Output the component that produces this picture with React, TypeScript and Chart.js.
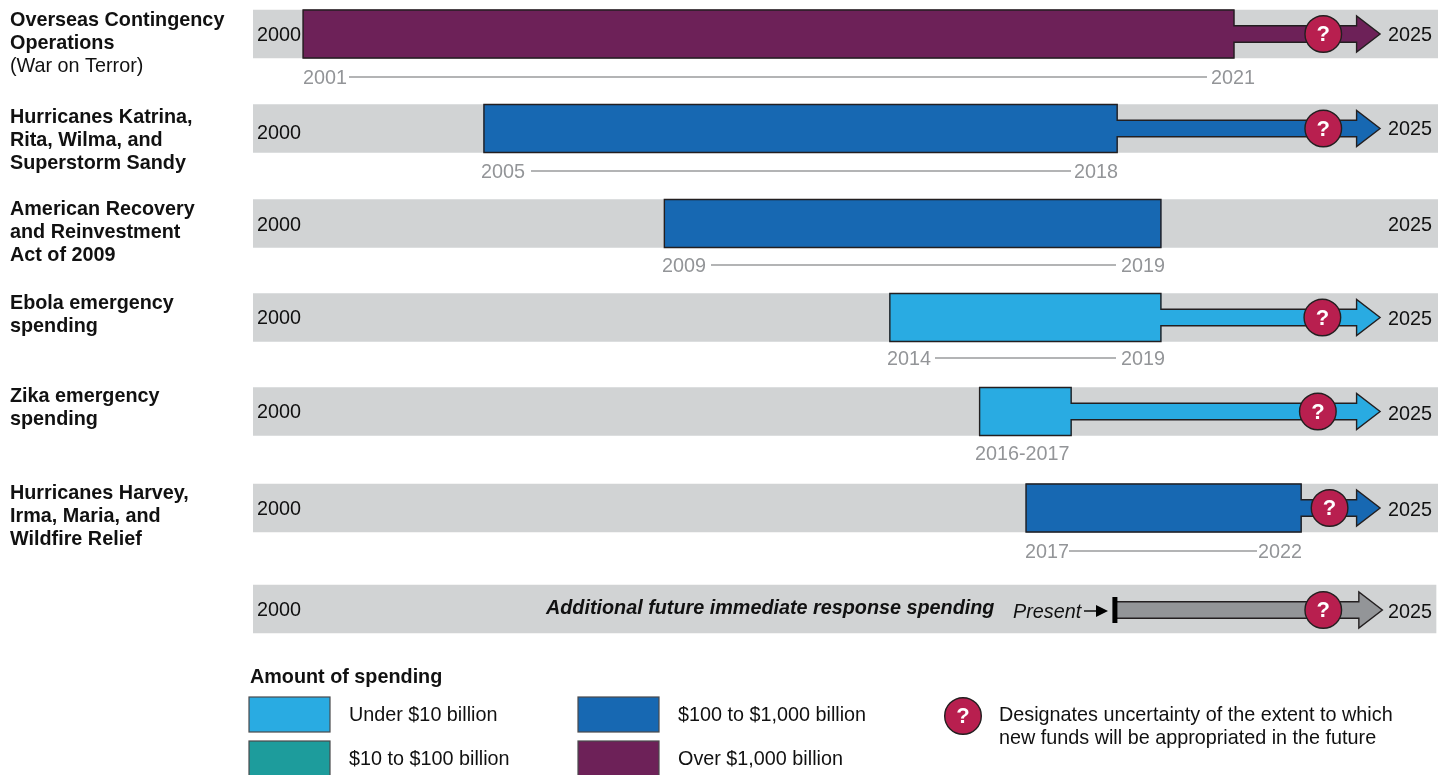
import React, { useEffect, useRef } from "react";
import { Chart, registerables } from "chart.js";
Chart.register(...registerables);

// ---- data (years on the shared 2000-2025 time axis) ----
const categories = [
  ["Overseas Contingency", "Operations"],
  ["Hurricanes Katrina,", "Rita, Wilma, and", "Superstorm Sandy"],
  ["American Recovery", "and Reinvestment", "Act of 2009"],
  ["Ebola emergency", "spending"],
  ["Zika emergency", "spending"],
  ["Hurricanes Harvey,", "Irma, Maria, and", "Wildfire Relief"],
];
const categoryNotes = ["(War on Terror)", "", "", "", "", ""];
const spendStart = [2001.0, 2005.01, 2009.01, 2014.01, 2016.0, 2017.03];
const spendEnd = [2021.64, 2019.05, 2020.02, 2020.02, 2018.03, 2023.13];
const arrowTip = [2024.88, 2024.88, null, 2024.88, 2024.88, 2024.88, 2024.93];
const questionAt = [2023.62, 2023.62, null, 2023.6, 2023.5, 2023.76, 2023.62];
const tiers = [3, 2, 2, 0, 0, 2];
const tierLabels = ["Under $10 billion", "$10 to $100 billion", "$100 to $1,000 billion", "Over $1,000 billion"];
const tierColors = ["#29ABE2", "#1D9C9C", "#1768B2", "#6D2158"];
const rangeFrom = ["2001", "2005", "2009", "2014", "2016-2017", "2017"];
const rangeTo = ["2021", "2018", "2019", "2019", "", "2022"];
const presentYear = 2019.0;
const futureLabel = "Additional future immediate response spending";
const axisStart = "2000";
const axisEnd = "2025";
const legendTitle = "Amount of spending";
const uncertaintyNote = ["Designates uncertainty of the extent to which", "new funds will be appropriated in the future"];

// ---- layout ----
const W = 1450;
const H = 775;
const X_MIN = 1999.889;
const X_MAX = 2026.164;
const ROW_Y = [34, 128.5, 223.5, 317.5, 411.5, 508, 609];
const ROW_END = [2026.164, 2026.164, 2026.164, 2026.164, 2026.164, 2026.164, 2026.12];
const START_Y = [36, 134, 226, 319, 413, 510, 611];
const END_Y = [36, 130, 226, 320, 415, 511, 613];
const LABEL_Y = [21, 118, 210, 304, 397, 494];
const RANGE_Y = [79, 173, 267, 360, 455, 553];
const LINE_Y = [77, 171, 265, 358, 453, 551];
const RANGE_LEFT = [303, 481, 662, 887, 975, 1025];
const RANGE_RIGHT = [1255, 1118, 1165, 1165, 0, 1302];
const LINE_GAP = [[2, 4], [6, 3], [5, 5], [4, 5], [0, 0], [0, 1]];
const BAR_H = 48;
const SHAFT_H = 16.5;
const HEAD_H = 36;
const HEAD_W = 23.5;
const SIZE = 19.8;
const FONT = '"Liberation Sans", Arial, sans-serif';
const INK = "#231F20";
const BLACK = "#111111";
const GREY_TEXT = "#939598";
const ARROW_GREY = "#939598";
const BAND = "#D1D3D4";
const QUESTION = "#B81F4F";

const text = (c: CanvasRenderingContext2D, s: string, x: number, y: number, font: string, color = BLACK, align: CanvasTextAlign = "left") => {
  c.font = font;
  c.fillStyle = color;
  c.textAlign = align;
  c.textBaseline = "middle";
  c.fillText(s, x, y);
};

const badge = (c: CanvasRenderingContext2D, x: number, y: number) => {
  c.beginPath();
  c.arc(x, y, 18.3, 0, Math.PI * 2);
  c.fillStyle = QUESTION;
  c.fill();
  c.lineWidth = 1.4;
  c.strokeStyle = INK;
  c.stroke();
  text(c, "?", x, y + 1, `bold 22px ${FONT}`, "#FFFFFF", "center");
};

const overlay = {
  id: "overlay",
  afterDatasetsDraw(chart: any) {
    const c: CanvasRenderingContext2D = chart.ctx;
    const xs = chart.scales.x;
    const ys = chart.scales.y;
    const px = (v: number) => xs.getPixelForValue(v);
    const py = (v: number) => ys.getPixelForValue(v);
    const regular = `${SIZE}px ${FONT}`;
    c.save();

    // outlines and arrow heads
    ROW_Y.forEach((rowY, i) => {
      const y = py(i === 6 ? rowY + 1 : rowY);
      const tip = arrowTip[i];
      const hasBox = i < spendStart.length;
      const x0 = hasBox ? px(spendStart[i]) : px(presentYear);
      const x1 = hasBox ? px(spendEnd[i]) : x0;
      const boxH = hasBox ? BAR_H / 2 : SHAFT_H / 2;
      c.beginPath();
      c.moveTo(x0, y - boxH);
      c.lineTo(x1, y - boxH);
      if (tip != null) {
        const t = px(tip);
        c.lineTo(x1, y - SHAFT_H / 2);
        c.lineTo(t - HEAD_W, y - SHAFT_H / 2);
        c.lineTo(t - HEAD_W, y - HEAD_H / 2);
        c.lineTo(t, y);
        c.lineTo(t - HEAD_W, y + HEAD_H / 2);
        c.lineTo(t - HEAD_W, y + SHAFT_H / 2);
        c.lineTo(x1, y + SHAFT_H / 2);
      }
      c.lineTo(x1, y + boxH);
      c.lineTo(x0, y + boxH);
      c.closePath();
      c.fillStyle = hasBox ? tierColors[tiers[i]] : ARROW_GREY;
      c.fill();
      c.lineWidth = 1.4;
      c.strokeStyle = INK;
      c.lineJoin = "miter";
      c.stroke();
      const q = questionAt[i];
      if (q != null) badge(c, px(q), y);
      text(c, axisStart, 257, START_Y[i], regular);
      text(c, axisEnd, 1388, END_Y[i], regular);
    });

    // row titles
    categories.forEach((lines, i) => {
      lines.forEach((ln, j) => text(c, ln, 10, LABEL_Y[i] + j * 22.8, `bold ${SIZE}px ${FONT}`));
      const note = categoryNotes[i];
      if (note) text(c, note, 10, LABEL_Y[i] + lines.length * 22.8, regular);
    });

    // start-to-end range labels
    rangeFrom.forEach((from, i) => {
      const y = RANGE_Y[i];
      text(c, from, RANGE_LEFT[i], y, regular, GREY_TEXT);
      if (!rangeTo[i]) return;
      text(c, rangeTo[i], RANGE_RIGHT[i], y, regular, GREY_TEXT, "right");
      c.font = regular;
      c.beginPath();
      c.moveTo(RANGE_LEFT[i] + c.measureText(from).width + LINE_GAP[i][0], LINE_Y[i]);
      c.lineTo(RANGE_RIGHT[i] - c.measureText(rangeTo[i]).width - LINE_GAP[i][1], LINE_Y[i]);
      c.strokeStyle = "#9A9B9D";
      c.lineWidth = 1.4;
      c.stroke();
    });

    // future row
    const fy = py(ROW_Y[6]);
    text(c, futureLabel, 546, fy, `italic bold ${SIZE}px ${FONT}`);
    text(c, "Present", 1013, fy + 3, `italic ${SIZE}px ${FONT}`);
    c.strokeStyle = "#000";
    c.lineWidth = 1.4;
    c.beginPath();
    c.moveTo(1084, fy + 2);
    c.lineTo(1098, fy + 2);
    c.stroke();
    c.fillStyle = "#000";
    c.beginPath();
    c.moveTo(1096, fy - 4);
    c.lineTo(1108, fy + 2);
    c.lineTo(1096, fy + 8);
    c.closePath();
    c.fill();
    c.fillRect(px(presentYear) - 2.5, fy - 12, 5, 26);

    // legend
    text(c, legendTitle, 250, 678, `bold ${SIZE}px ${FONT}`);
    tierLabels.forEach((lab, i) => {
      const col = i < 2 ? 0 : 1;
      const row = i % 2;
      const x = col === 0 ? 249 : 578;
      const y = row === 0 ? 697 : 741;
      c.fillStyle = tierColors[i];
      c.fillRect(x, y, 81, 35);
      c.strokeStyle = "#4A4A4C";
      c.lineWidth = 1.2;
      c.strokeRect(x, y, 81, 35);
      text(c, lab, x + 100, y + 19, regular);
    });
    badge(c, 963, 716);
    uncertaintyNote.forEach((ln, j) => text(c, ln, 999, 716 + j * 22.5, regular));
    c.restore();
  },
};

export default function App() {
  const ref = useRef<HTMLCanvasElement | null>(null);
  useEffect(() => {
    const chart = new Chart(ref.current as HTMLCanvasElement, {
      type: "bar",
      plugins: [overlay],
      data: {
        datasets: [
          {
            label: "Period",
            data: ROW_Y.map((y, i) => ({ x: [X_MIN, ROW_END[i]], y })),
            backgroundColor: BAND,
            barThickness: BAR_H,
            grouped: false,
            order: 3,
          },
          {
            label: "Future appropriations",
            data: ROW_Y.flatMap((y, i) => {
              const tip = arrowTip[i];
              if (tip == null) return [];
              const from = i < spendEnd.length ? spendEnd[i] : presentYear;
              return [{ x: [from, tip - 0.5], y: i === 6 ? y + 1 : y }];
            }),
            backgroundColor: ROW_Y.flatMap((_, i) =>
              arrowTip[i] == null ? [] : [i < tiers.length ? tierColors[tiers[i]] : ARROW_GREY]
            ),
            barThickness: SHAFT_H,
            grouped: false,
            order: 2,
          },
          {
            label: "Spending",
            data: spendStart.map((s, i) => ({ x: [s, spendEnd[i]], y: ROW_Y[i] })),
            backgroundColor: spendStart.map((_, i) => tierColors[tiers[i]]),
            barThickness: BAR_H,
            grouped: false,
            order: 1,
          },
        ],
      } as any,
      options: {
        indexAxis: "y",
        animation: false,
        responsive: false,
        layout: { padding: { left: 253, right: W - 1438, top: 0, bottom: 0 } },
        plugins: { legend: { display: false }, tooltip: { enabled: false } },
        scales: {
          x: { type: "linear", min: X_MIN, max: X_MAX, display: false, offset: false },
          y: { type: "linear", min: 0, max: H, reverse: true, display: false, offset: false },
        },
      } as any,
    });
    return () => chart.destroy();
  }, []);
  return (
    <div style={{ position: "absolute", left: 0, top: 0, width: W, height: H, overflow: "hidden", background: "#fff" }}>
      <canvas ref={ref} width={W} height={H} style={{ display: "block" }} />
    </div>
  );
}
